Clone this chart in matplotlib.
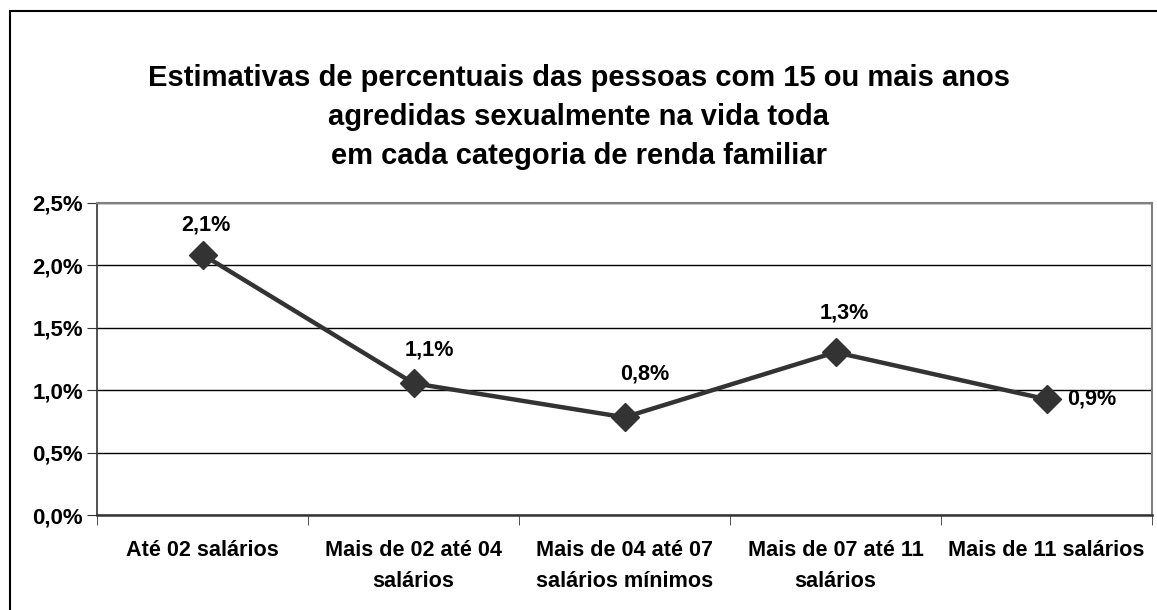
import matplotlib
matplotlib.use("Agg")
import matplotlib.pyplot as plt
from matplotlib.patches import Rectangle
from matplotlib.ticker import FixedLocator, FuncFormatter

categories = ["Até 02 salários", "Mais de 02 até 04\nsalários", "Mais de 04 até 07\nsalários mínimos",
              "Mais de 07 até 11\nsalários", "Mais de 11 salários"]
values = [2.085, 1.056, 0.784, 1.304, 0.928]
labels = ["2,1%", "1,1%", "0,8%", "1,3%", "0,9%"]
yticks = [0.0, 0.5, 1.0, 1.5, 2.0, 2.5]
title = ("Estimativas de percentuais das pessoas com 15 ou mais anos\n"
         "agredidas sexualmente na vida toda\n"
         "em cada categoria de renda familiar")

# label placement (pixel offsets from the marker, ha)
label_offsets = [(3, -30, 'center'), (16, -33, 'center'), (20, -43, 'center'),
                 (9, -39, 'center'), (21, 0, 'left')]

plt.rcParams['font.family'] = ['Liberation Sans', 'DejaVu Sans']
W, H = 1157, 610
fig = plt.figure(figsize=(W / 100, H / 100), dpi=100)
fig.patch.set_facecolor('white')

# outer frame
fig.patches.append(Rectangle((10 / W, -0.1), 1.2, (H - 11) / H + 0.1, transform=fig.transFigure,
                             fill=False, edgecolor='black', linewidth=1.5))

ax = fig.add_axes([97 / W, (H - 515.3) / H, (1152 - 97) / W, (515.3 - 202.7) / H])
x = list(range(len(categories)))
ax.plot(x, values, color='#333333', linewidth=3.2, marker='D', markersize=14,
        markerfacecolor='#333333', markeredgecolor='#333333', zorder=3, clip_on=False)
ax.set_xlim(-0.5, len(categories) - 0.5)
ax.set_ylim(0, 2.5)
ax.yaxis.set_major_locator(FixedLocator(yticks))
ax.yaxis.set_major_formatter(FuncFormatter(lambda v, p: f"{v:.1f}%".replace('.', ',')))
ax.grid(axis='y', color='black', linewidth=1)
ax.set_axisbelow(True)

ax.set_xticks(x)
ax.set_xticklabels(categories, fontsize=15.6, fontweight='bold', linespacing=1.6)
ax.tick_params(axis='x', length=0, pad=18)
ax.set_xticks([i + 0.5 for i in range(-1, len(categories))], minor=True)
ax.tick_params(axis='x', which='minor', length=7, direction='out', color='#333333')
ax.tick_params(axis='y', length=7, direction='out', labelsize=16, pad=3, color='#333333')
for t in ax.get_yticklabels():
    t.set_fontweight('bold')

for s in ['top', 'right']:
    ax.spines[s].set_color('#808080')
    ax.spines[s].set_linewidth(1.5)
ax.spines['left'].set_color('#333333')
ax.spines['left'].set_linewidth(1.2)
ax.spines['bottom'].set_color('#333333')
ax.spines['bottom'].set_linewidth(1.8)

for i, (v, lab) in enumerate(zip(values, labels)):
    dx, dy, ha = label_offsets[i]
    ax.annotate(lab, (i, v), xytext=(dx * 0.72, -dy * 0.72), textcoords='offset points',
                fontsize=15.6, fontweight='bold', ha=ha, va='center')

fig.text(579 / W, 1 - 64 / H, title, ha='center', va='top', fontsize=21, fontweight='bold',
         linespacing=1.5)

fig.savefig('out.png', dpi=100)
